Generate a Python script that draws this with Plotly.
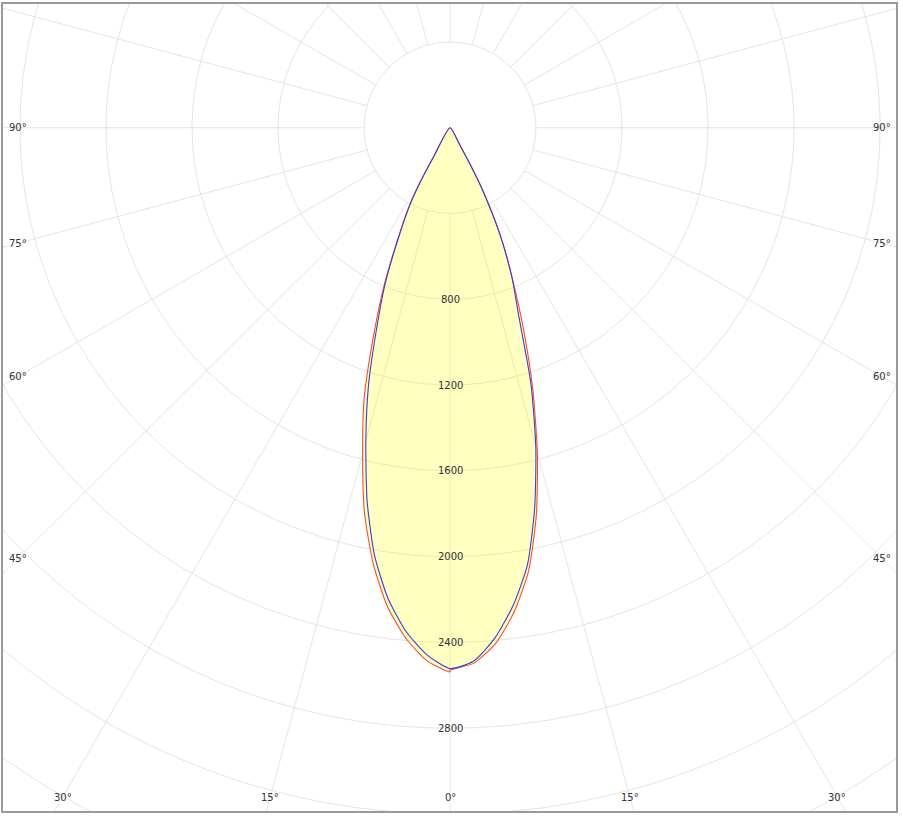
import numpy as np
import plotly.graph_objects as go

# Photometric data (cd), gamma angle from nadir (deg)
GAMMA = [0, 2.5, 5, 7.5, 10, 12.5, 15, 17.5, 20, 22.5, 25, 27.5, 28.5, 29.5, 30.5, 90]
C0_RIGHT   = [2530, 2500, 2416, 2279, 2101, 1853, 1569, 1280, 998, 750, 550, 326, 210, 90, 0, 0]    # red, right half
C180_LEFT  = [2538, 2487, 2386, 2247, 2061, 1839, 1571, 1330, 1048, 809, 581, 412, 320, 150, 0, 0]  # red, left half
C90_RIGHT  = [2522, 2490, 2389, 2247, 2071, 1818, 1541, 1251, 935, 750, 550, 326, 210, 90, 0, 0]    # blue, right half
C270_LEFT  = [2522, 2460, 2357, 2213, 2024, 1782, 1513, 1262, 1000, 790, 570, 400, 310, 145, 0, 0]  # blue, left half

RING_VALUES = [400, 800, 1200, 1600, 2000, 2400, 2800, 3200, 3600, 4000]
RING_LABELS = [800, 1200, 1600, 2000, 2400, 2800]
SPOKE_ANGLES = list(range(0, 360, 15))
ANGLE_LABELS = [0, 15, 30, 45, 60, 75, 90]

GRID_COLOR = "rgb(228,228,228)"
TEXT_FONT = dict(family="DejaVu Sans", size=10, color="#333333")


def curve_xy(left, right):
    g = np.radians(np.array(GAMMA, dtype=float))
    l = np.array(left, dtype=float)
    r = np.array(right, dtype=float)
    x = np.concatenate([-l[::-1] * np.sin(g[::-1]), r * np.sin(g)])
    y = np.concatenate([-l[::-1] * np.cos(g[::-1]), -r * np.cos(g)])
    # drop consecutive duplicate points (zero intensity collapses to the centre)
    keep = [0]
    for i in range(1, len(x)):
        if abs(x[i] - x[keep[-1]]) > 1e-6 or abs(y[i] - y[keep[-1]]) > 1e-6:
            keep.append(i)
    return x[keep], y[keep]


fig = go.Figure()

# rings
t = np.radians(np.linspace(0, 360, 721))
rx, ry = [], []
for rv in RING_VALUES:
    rx += list(rv * np.sin(t)) + [None]
    ry += list(rv * np.cos(t)) + [None]
fig.add_trace(go.Scatter(x=rx, y=ry, mode="lines", line=dict(color=GRID_COLOR, width=1),
                         hoverinfo="skip"))

# spokes (from first ring outward)
sx, sy = [], []
for a in SPOKE_ANGLES:
    ar = np.radians(a)
    r0, r1 = RING_VALUES[0], 6000
    sx += [r0 * np.sin(ar), r1 * np.sin(ar), None]
    sy += [-r0 * np.cos(ar), -r1 * np.cos(ar), None]
fig.add_trace(go.Scatter(x=sx, y=sy, mode="lines", line=dict(color=GRID_COLOR, width=1),
                         hoverinfo="skip"))

# filled envelope
ex, ey = curve_xy(np.maximum(C180_LEFT, C270_LEFT), np.maximum(C0_RIGHT, C90_RIGHT))
fig.add_trace(go.Scatter(x=ex, y=ey, mode="lines", fill="toself",
                         fillcolor="rgba(255,255,0,0.24)",
                         line=dict(width=0, shape="spline", smoothing=0.6),
                         hoverinfo="skip"))

# curves
x1, y1 = curve_xy(C180_LEFT, C0_RIGHT)
fig.add_trace(go.Scatter(x=x1, y=y1, mode="lines", name="C0-C180",
                         line=dict(color="rgb(250,75,55)", width=1.1, shape="spline", smoothing=0.6)))
x2, y2 = curve_xy(C270_LEFT, C90_RIGHT)
fig.add_trace(go.Scatter(x=x2, y=y2, mode="lines", name="C90-C270",
                         line=dict(color="rgb(60,60,215)", width=1.1, shape="spline", smoothing=0.6)))

annotations = []
for rv in RING_LABELS:
    annotations.append(dict(x=0, y=-rv, text=str(rv), showarrow=False,
                            font=TEXT_FONT, xanchor="center", yanchor="middle"))

X_IN = 2007.0
Y_IN = 3121.0
for a in ANGLE_LABELS:
    ar = np.radians(a)
    for side in ([1] if a == 0 else [-1, 1]):
        cands = []
        if np.sin(ar) > 1e-9:
            cands.append(X_IN / np.sin(ar))
        if np.cos(ar) > 1e-9:
            cands.append(Y_IN / np.cos(ar))
        tt = min(cands)
        annotations.append(dict(x=side * tt * np.sin(ar), y=-tt * np.cos(ar),
                                text=f"{a}°", showarrow=False, font=TEXT_FONT,
                                xanchor="center", yanchor="middle"))

fig.update_layout(
    width=903, height=819,
    margin=dict(l=3, r=7, t=2, b=8),
    paper_bgcolor="white", plot_bgcolor="white",
    showlegend=False,
    annotations=annotations,
    xaxis=dict(range=[-2079, 2074], showgrid=False, zeroline=False, showticklabels=False,
               showline=True, mirror=True, linecolor="#9a9a9a", linewidth=1.5, fixedrange=True),
    yaxis=dict(range=[-3186, 577], showgrid=False, zeroline=False, showticklabels=False,
               showline=True, mirror=True, linecolor="#9a9a9a", linewidth=1.5, fixedrange=True),
)

fig.write_html("out.html", config={"displayModeBar": False},
               post_script="document.body.style.margin='0';document.body.style.overflow='hidden';")
